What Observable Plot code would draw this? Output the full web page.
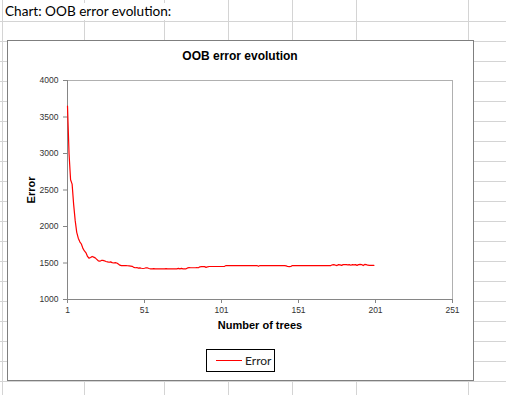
<!DOCTYPE html>
<html>
<head>
<meta charset="utf-8">
<script src="https://cdn.jsdelivr.net/npm/d3@7"></script>
<script src="https://cdn.jsdelivr.net/npm/@observablehq/plot@0.6"></script>
<style>
  html, body { margin: 0; padding: 0; background: #fff; }
  #page { position: relative; width: 506px; height: 395px; overflow: hidden; background: #fff; }
  .gl { position: absolute; background: #d4d4d4; }
  #header { position: absolute; left: 5px; top: 3px; font-family: Lato, "Open Sans", sans-serif; font-size: 13.6px; color: #000; background: #fff; padding-right: 4px; line-height: 17px; }
  #box { position: absolute; left: 7px; top: 40px; width: 467px; height: 341px; box-sizing: border-box; border: 1.5px solid #7f7f7f; background: #fff; }
  #title { position: absolute; left: 0; width: 480px; top: 49px; text-align: center; font-family: "Liberation Sans", Arial, sans-serif; font-weight: bold; font-size: 12px; color: #000; }
  #plot { position: absolute; left: 8px; top: 62px; }
  #xlabel { position: absolute; left: 160px; width: 200px; top: 319px; text-align: center; font-family: "Liberation Sans", Arial, sans-serif; font-weight: bold; font-size: 11px; color: #000; }
  #ylabel { position: absolute; left: 31px; top: 190px; transform: translate(-50%, -50%) rotate(-90deg); font-family: "Liberation Sans", Arial, sans-serif; font-weight: bold; font-size: 11px; color: #000; white-space: nowrap; }
  #legend { position: absolute; left: 206px; top: 349px; width: 69px; height: 23px; box-sizing: border-box; border: 1px solid #000; background: #fff; }
  #legend .sw { position: absolute; left: 9px; top: 10px; width: 26px; height: 0; border-top: 1.5px solid #ff0000; }
  #legend .lt { position: absolute; left: 38px; top: 3px; font-family: Lato, "Open Sans", sans-serif; font-size: 12px; color: #222; line-height: 15px; }
</style>
</head>
<body>
<div id="page">
  <div id="header">Chart: OOB error evolution:</div>
  <div id="box"></div>
  <div id="title">OOB error evolution</div>
  <div id="plot"></div>
  <div id="ylabel">Error</div>
  <div id="xlabel">Number of trees</div>
  <div id="legend"><div class="sw"></div><div class="lt">Error</div></div>
</div>
<script>
// ---- data ----
const seriesName = "Error";
const xTicks = [1, 51, 101, 151, 201, 251];
const yTicks = [1000, 1500, 2000, 2500, 3000, 3500, 4000];
const errors = [
  3650, 3000, 2640, 2580, 2300, 2080, 1920, 1840, 1790, 1760, 1700, 1665, 1640, 1590, 1565, 1575, 1590, 1580, 1570, 1550,
  1530, 1525, 1535, 1535, 1530, 1520, 1515, 1510, 1515, 1505, 1500, 1505, 1500, 1485, 1470, 1465, 1465, 1465, 1465, 1462,
  1460, 1458, 1455, 1440, 1435, 1438, 1430, 1432, 1428, 1425, 1428, 1435, 1432, 1425, 1420, 1420, 1422, 1420, 1420, 1420,
  1420, 1420, 1420, 1420, 1422, 1420, 1420, 1420, 1420, 1420, 1420, 1420, 1426, 1420, 1426, 1420, 1420, 1420, 1432, 1436,
  1435, 1435, 1435, 1435, 1436, 1435, 1448, 1450, 1450, 1450, 1440, 1448, 1452, 1452, 1452, 1452, 1452, 1452, 1452, 1452,
  1452, 1452, 1455, 1465, 1465, 1465, 1465, 1465, 1465, 1465, 1465, 1465, 1465, 1465, 1465, 1465, 1465, 1465, 1465, 1465,
  1465, 1465, 1465, 1465, 1455, 1465, 1465, 1465, 1465, 1465, 1465, 1465, 1465, 1465, 1465, 1465, 1465, 1465, 1465, 1465,
  1465, 1465, 1460, 1452, 1450, 1452, 1465, 1465, 1465, 1465, 1465, 1465, 1465, 1465, 1465, 1465, 1465, 1465, 1465, 1465,
  1465, 1465, 1465, 1465, 1465, 1465, 1465, 1465, 1465, 1465, 1465, 1465, 1475, 1478, 1470, 1465, 1478, 1475, 1468, 1478,
  1478, 1478, 1475, 1478, 1470, 1478, 1475, 1478, 1468, 1478, 1480, 1478, 1465, 1480, 1478, 1470, 1468, 1468, 1468, 1468
];
const rows = errors.map((e, i) => ({tree: i + 1, error: e}));

// ---- spreadsheet grid (decoration) ----
const page = document.getElementById("page");
for (let y = 21; y < 395; y += 20) {
  const d = document.createElement("div");
  d.className = "gl"; d.style.left = "0px"; d.style.top = y + "px"; d.style.width = "506px"; d.style.height = "1px";
  page.insertBefore(d, page.firstChild);
}
[2, 84, 164, 228, 292, 356, 468].forEach(x => {
  const d = document.createElement("div");
  d.className = "gl"; d.style.left = x + "px"; d.style.top = "0px"; d.style.width = "1px"; d.style.height = "395px";
  page.insertBefore(d, page.firstChild);
});

// ---- chart ----
const chart = Plot.plot({
  width: 460,
  height: 280,
  marginLeft: 59,
  marginRight: 16,
  marginTop: 18,
  marginBottom: 43,
  x: {domain: [1, 251]},
  y: {domain: [1000, 4000]},
  style: {background: "transparent", fontFamily: "'Liberation Sans', Arial, sans-serif", fontSize: "8.5px", color: "#333"},
  marks: [
    Plot.frame({stroke: "#b0b0b0"}),
    Plot.axisX({ticks: xTicks, tickFormat: "d", tickSize: 4, tickPadding: 3, label: null, stroke: "#868686", fill: "#333"}),
    Plot.axisY({ticks: yTicks, tickFormat: "d", tickSize: 4, tickPadding: 5, label: null, stroke: "#868686", fill: "#333"}),
    Plot.ruleX([1], {stroke: "#868686"}),
    Plot.ruleY([1000], {stroke: "#868686"}),
    Plot.line(rows, {x: "tree", y: "error", stroke: "#ff0000", strokeWidth: 1.2})
  ]
});
document.getElementById("plot").appendChild(chart);
</script>
</body>
</html>
